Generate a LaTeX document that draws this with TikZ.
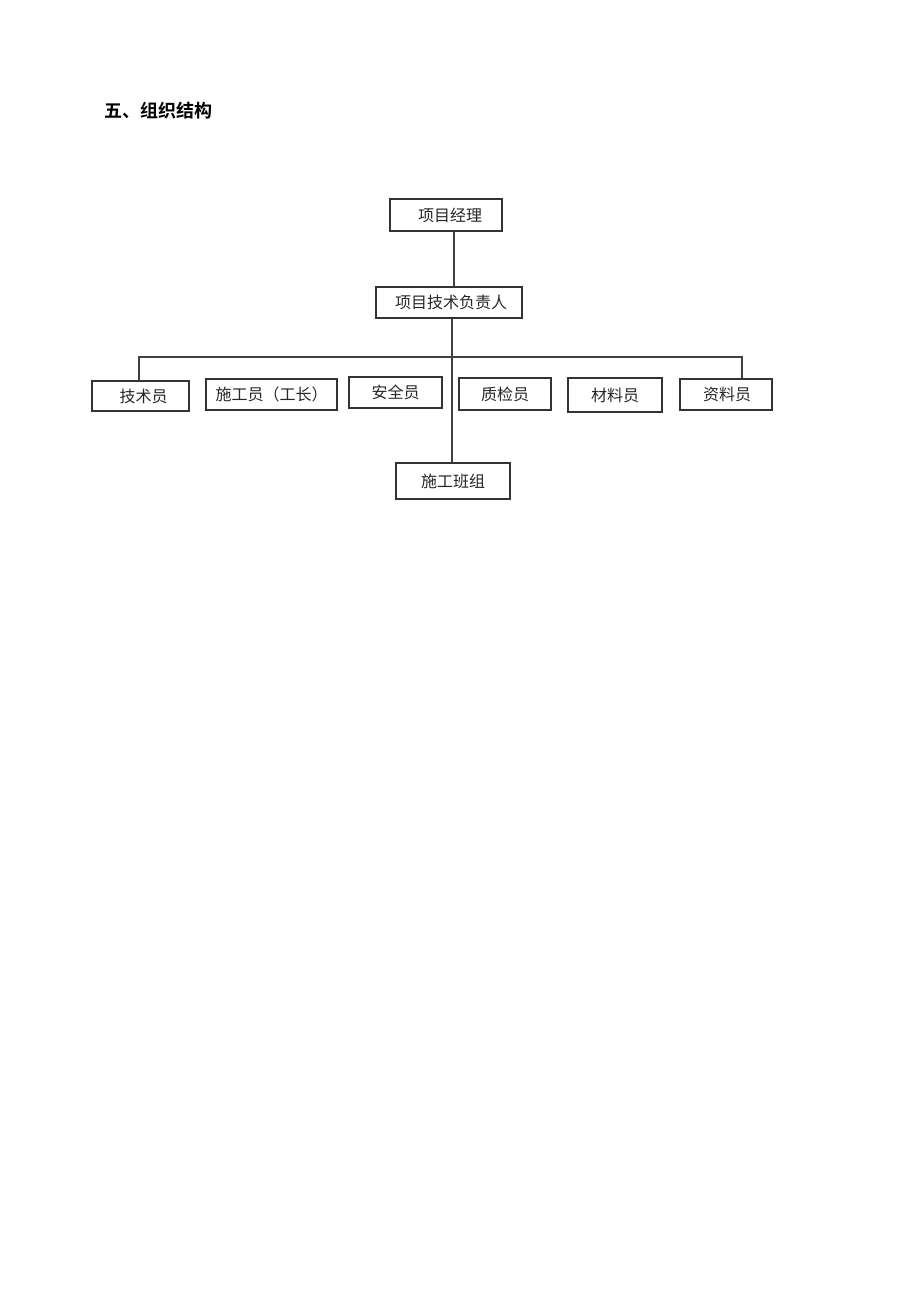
\documentclass[tikz,border=0pt]{standalone}
\usepackage{fontspec}
\newfontfamily\cjk{Noto Sans CJK SC}
\newfontfamily\cjkb{Noto Sans CJK SC Bold}
\tikzset{
  orgbox/.style={draw=black!80, line width=1.2pt, rectangle, inner sep=0pt,
    font=\cjk\fontsize{16}{16}\selectfont, text=black!85},
  link/.style={draw=black!75, line width=1.2pt}
}
\begin{document}
\begin{tikzpicture}[x=1pt,y=-1pt]
\path[use as bounding box] (0,0) rectangle (920,1302);
\node[anchor=west, font=\cjkb\fontsize{18}{18}\selectfont] (title) at (101,111) {五、组织结构};

\node[orgbox, minimum width=112pt, minimum height=32pt] (pm) at (446,215) {\hspace{8pt}项目经理};
\node[orgbox, minimum width=146pt, minimum height=31pt] (tech) at (449,302.5) {\hspace{4pt}项目技术负责人};
\node[orgbox, minimum width=97pt, minimum height=30pt] (js) at (140.5,396) {\hspace{6pt}技术员};
\node[orgbox, minimum width=131pt, minimum height=31pt] (sg) at (271.5,394.5) {施工员（工长）};
\node[orgbox, minimum width=93pt, minimum height=31pt] (aq) at (395.5,392.5) {安全员};
\node[orgbox, minimum width=92pt, minimum height=32pt] (zj) at (505,394) {质检员};
\node[orgbox, minimum width=94pt, minimum height=34pt] (cl) at (615,395) {材料员};
\node[orgbox, minimum width=92pt, minimum height=31pt] (zl) at (726,394.5) {\hspace{2pt}资料员};
\node[orgbox, minimum width=114pt, minimum height=36pt] (team) at (453,481) {施工班组};

\coordinate (spineA) at (454,0);
\coordinate (spineB) at (452,0);
\coordinate (barL) at (139,357);
\coordinate (barR) at (742,357);

\draw[link] (pm.south -| spineA) -- (tech.north -| spineA);
\draw[link] (tech.south -| spineB) -- (team.north -| spineB);
\draw[link] (js.north -| barL) -- (barL) -- (barR) -- (zl.north -| barR);
\end{tikzpicture}
\end{document}
